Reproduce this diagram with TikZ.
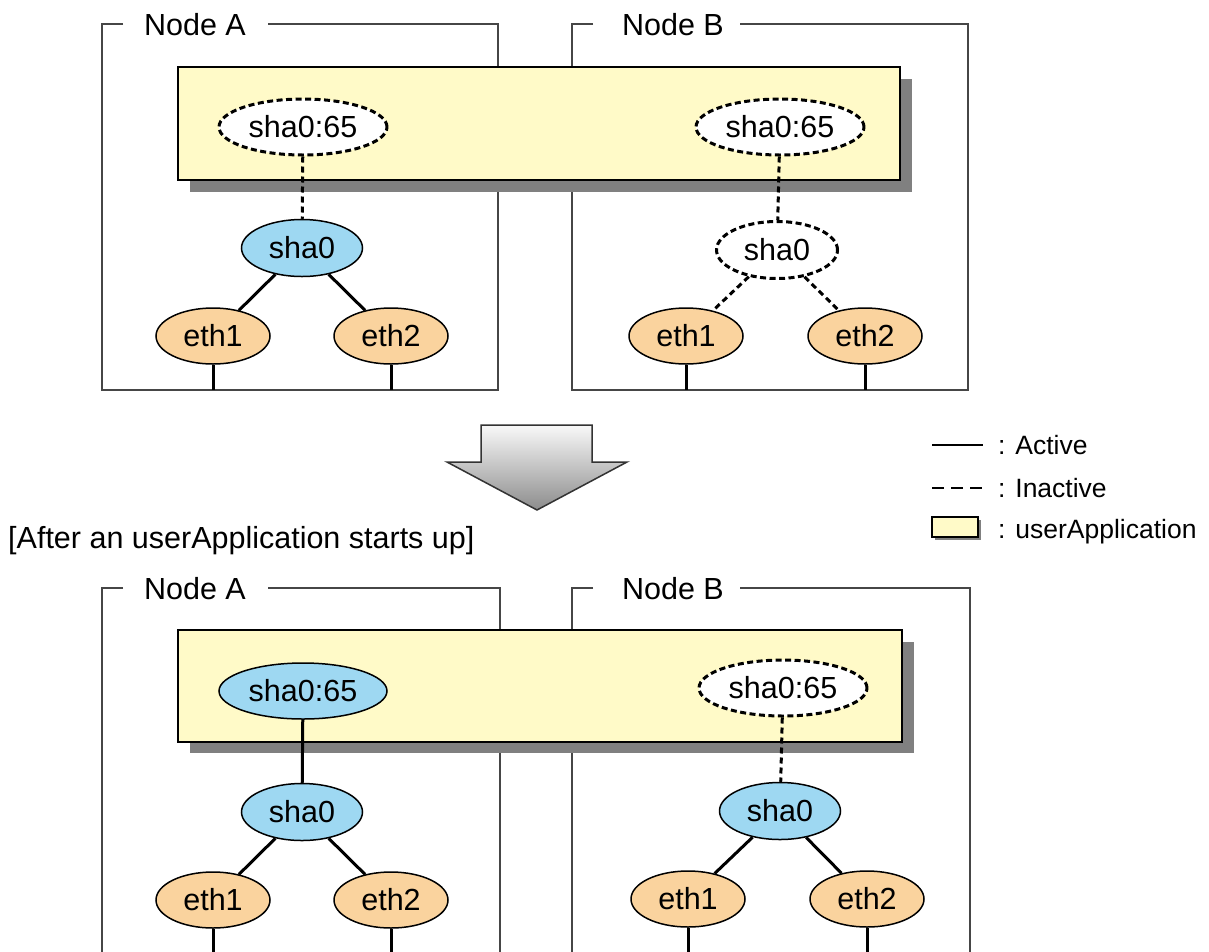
\documentclass[tikz,border=0pt]{standalone}
\usepackage{fontspec}
\setmainfont{Liberation Sans}
\usetikzlibrary{shapes.geometric}
\definecolor{appyellow}{RGB}{255,250,200}
\definecolor{shablue}{RGB}{158,216,242}
\definecolor{ethorange}{RGB}{250,211,158}
\definecolor{framegray}{RGB}{70,70,70}
\definecolor{shadowgray}{RGB}{128,128,128}
\tikzset{
  lbl/.style={font=\fontsize{30.5}{34}\selectfont, inner sep=0pt},
  leg/.style={font=\fontsize{26.5}{30}\selectfont, inner sep=0pt},
  ell/.style={ellipse, inner sep=0pt, draw=black, line width=1.5pt, font=\fontsize{30.5}{34}\selectfont},
  shaon/.style={ell, fill=shablue, minimum width=121pt, minimum height=57pt},
  shaoff/.style={ell, fill=white, line width=3pt, dash pattern=on 6pt off 3.5pt, minimum width=121pt, minimum height=57pt},
  vipon/.style={ell, fill=shablue, minimum width=168pt, minimum height=56pt},
  vipoff/.style={ell, fill=white, line width=3pt, dash pattern=on 6pt off 3.5pt, minimum width=168pt, minimum height=56pt},
  eth/.style={ell, fill=ethorange, minimum width=114pt, minimum height=56pt},
  act/.style={line width=3pt, black},
  inact/.style={line width=3pt, black, dash pattern=on 6pt off 4pt},
  frm/.style={line width=2pt, framegray},
  app/.style={draw=black, line width=1.5pt, fill=appyellow},
}
\begin{document}
\begin{tikzpicture}[x=1pt, y=-1pt]
\clip (0,0) rectangle (1209,951);
\fill[white] (0,0) rectangle (1209,951);

% ===== Top panel =====
\draw[frm] (123,24) -- (102,24) -- (102,390) -- (498,390) -- (498,24) -- (268,24);
\node[lbl] (tA) at (195,25) {Node A};
\draw[frm] (593,24) -- (572,24) -- (572,390) -- (968,390) -- (968,24) -- (740,24);
\node[lbl] (tB) at (673,25) {Node B};
\fill[shadowgray] (190,79) rectangle (912,192);
\draw[app] (178,67) rectangle (900,180);

\node[vipoff] (t65A) at (303,127) {sha0:65};
\node[shaon] (tshaA) at (302,248) {sha0};
\node[eth] (te1A) at (213,336) {eth1};
\node[eth] (te2A) at (391,336) {eth2};
\coordinate (te1Ab) at (213,390);
\coordinate (te2Ab) at (391,390);
\draw[inact] (t65A) -- (tshaA);
\draw[act] (tshaA) -- (te1A);
\draw[act] (tshaA) -- (te2A);
\draw[act] (te1A) -- (te1Ab);
\draw[act] (te2A) -- (te2Ab);

\node[vipoff] (t65B) at (780,127) {sha0:65};
\node[shaoff] (tshaB) at (777,250) {sha0};
\node[eth] (te1B) at (686,336) {eth1};
\node[eth] (te2B) at (865,336) {eth2};
\coordinate (te1Bb) at (686,390);
\coordinate (te2Bb) at (865,390);
\draw[inact] (t65B) -- (tshaB);
\draw[inact] (tshaB) -- (te1B);
\draw[inact] (tshaB) -- (te2B);
\draw[act] (te1B) -- (te1Bb);
\draw[act] (te2B) -- (te2Bb);

% ===== Arrow =====
\shade[top color=gray!5, bottom color=gray!90, draw=black!80, line width=1.5pt]
  (481,425) -- (592,425) -- (592,462) -- (627,462) -- (537,510) -- (447,462) -- (481,462) -- cycle;

% ===== Legend =====
\coordinate (la1) at (932,445);
\coordinate (la2) at (983,445);
\draw[act, line width=2.5pt] (la1) -- (la2);
\node[leg, anchor=west] (lat) at (998,445) {: Active};
\coordinate (li1) at (932,488);
\coordinate (li2) at (983,488);
\draw[act, line width=2.5pt, dash pattern=on 12pt off 7pt] (li1) -- (li2);
\node[leg, anchor=west] (lit) at (998,488) {: Inactive};
\fill[shadowgray] (935,520) rectangle (981,540);
\draw[app] (932,517) rectangle (978,537);
\node[leg, anchor=west] (lut) at (998,532) {: userApplication};

\node[lbl, anchor=west] (after) at (8,541) {[After an userApplication starts up]};

% ===== Bottom panel =====
\draw[frm] (123,588) -- (102,588) -- (102,954) -- (500,954) -- (500,588) -- (268,588);
\node[lbl] (bA) at (195,589) {Node A};
\draw[frm] (593,588) -- (572,588) -- (572,954) -- (970,954) -- (970,588) -- (740,588);
\node[lbl] (bB) at (673,589) {Node B};
\fill[shadowgray] (190,642) rectangle (914,753);
\draw[app] (178,630) rectangle (902,742);

\node[vipon] (b65A) at (303,691) {sha0:65};
\node[shaon] (bshaA) at (302,812) {sha0};
\node[eth] (be1A) at (213,900) {eth1};
\node[eth] (be2A) at (391,900) {eth2};
\coordinate (be1Ab) at (213,960);
\coordinate (be2Ab) at (391,960);
\draw[act] (b65A) -- (bshaA);
\draw[act] (bshaA) -- (be1A);
\draw[act] (bshaA) -- (be2A);
\draw[act] (be1A) -- (be1Ab);
\draw[act] (be2A) -- (be2Ab);

\node[vipoff] (b65B) at (783,688) {sha0:65};
\node[shaon] (bshaB) at (780,811) {sha0};
\node[eth] (be1B) at (688,899) {eth1};
\node[eth] (be2B) at (867,899) {eth2};
\coordinate (be1Bb) at (688,960);
\coordinate (be2Bb) at (867,960);
\draw[inact] (b65B) -- (bshaB);
\draw[act] (bshaB) -- (be1B);
\draw[act] (bshaB) -- (be2B);
\draw[act] (be1B) -- (be1Bb);
\draw[act] (be2B) -- (be2Bb);
\end{tikzpicture}
\end{document}
